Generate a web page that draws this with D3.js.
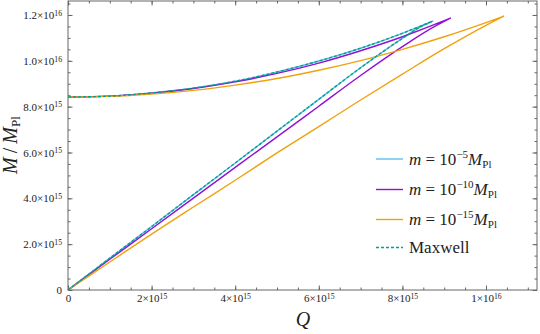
<!DOCTYPE html>
<html>
<head>
<meta charset="utf-8">
<script src="https://cdn.jsdelivr.net/npm/d3@7"></script>
<style>
body { margin: 0; background: #fff; }
svg { display: block; }
svg text { font-family: "Liberation Serif", "Times New Roman", serif; }
</style>
</head>
<body>
<svg width="540" height="334"></svg>
<script>
// values in units of 1e15 (Q) and 1e15 M_Pl (M)
var UNIT = 1e15;

// m = 1e-5 M_Pl
var q5Lower = [0, 1, 2, 3, 4, 5, 6, 7, 8, 8.4, 8.74];
var m5Lower = [0, 1.39, 2.77, 4.16, 5.54, 6.93, 8.32, 9.70, 10.98, 11.45, 11.74];
var q5Upper = [0, 1, 2, 3, 4, 5, 6, 7, 8, 8.74];
var m5Upper = [8.42, 8.46, 8.60, 8.81, 9.11, 9.51, 9.99, 10.55, 11.20, 11.74];

// m = 1e-10 M_Pl
var q10Lower = [0, 1, 2, 3, 4, 5, 6, 7, 8, 8.6, 9.16];
var m10Lower = [0, 1.34, 2.67, 4.01, 5.35, 6.68, 8.02, 9.36, 10.62, 11.32, 11.87];
var q10Upper = [0, 1, 2, 3, 4, 5, 6, 7, 8, 9, 9.16];
var m10Upper = [8.42, 8.46, 8.59, 8.79, 9.08, 9.45, 9.90, 10.44, 11.05, 11.75, 11.87];

// m = 1e-15 M_Pl
var q15Lower = [0, 1, 2, 3, 4, 5, 6, 7, 8, 9, 10, 10.43];
var m15Lower = [0, 1.22, 2.44, 3.62, 4.79, 5.98, 7.13, 8.29, 9.42, 10.53, 11.55, 11.95];
var q15Upper = [0, 1, 2, 3, 4, 5, 6, 7, 8, 9, 10, 10.43];
var m15Upper = [8.42, 8.45, 8.55, 8.71, 8.94, 9.23, 9.59, 10.01, 10.50, 11.05, 11.67, 11.95];

// Maxwell
var qMaxLower = [0, 1, 2, 3, 4, 5, 6, 7, 8, 8.4, 8.72];
var mMaxLower = [0, 1.39, 2.77, 4.16, 5.54, 6.93, 8.32, 9.70, 10.98, 11.45, 11.73];
var qMaxUpper = [0, 1, 2, 3, 4, 5, 6, 7, 8, 8.72];
var mMaxUpper = [8.42, 8.46, 8.60, 8.81, 9.11, 9.51, 9.99, 10.55, 11.20, 11.73];

var xTicks = [0, 2, 4, 6, 8, 10];
var xTickMant = ["0", "2", "4", "6", "8", "1"];
var xTickExp = [null, "15", "15", "15", "15", "16"];
var yTicks = [0, 2, 4, 6, 8, 10, 12];
var yTickMant = ["0", "2.0", "4.0", "6.0", "8.0", "1.0", "1.2"];
var yTickExp = [null, "15", "15", "15", "15", "16", "16"];

var seriesNames = ["m5", "m10", "m15", "maxwell"];
var seriesColors = ["#5ebfe9", "#9210d6", "#f0a20e", "#00a38a"];
var seriesExp = ["\u22125", "\u221210", "\u221215", null];

var svg = d3.select("svg"),
    margin = {top: 1, right: 3, bottom: 44, left: 68},
    width = +svg.attr("width") - margin.left - margin.right,
    height = +svg.attr("height") - margin.top - margin.bottom;

var x = d3.scaleLinear().domain([0, 11.22 * UNIT]).range([0, width]);
var y = d3.scaleLinear().domain([0, 12.61 * UNIT]).range([height, 0]);

var g = svg.append("g").attr("transform", "translate(" + margin.left + "," + margin.top + ")");

var minorX = d3.range(0, 11.2, 0.5).map(function(d) { return d * UNIT; });
var minorY = d3.range(0, 12.6, 0.5).map(function(d) { return d * UNIT; });

function sciLabel(sel, mants, exps) {
  sel.each(function(d, i) {
    var t = d3.select(this).text(null);
    if (!exps[i]) { t.text(mants[i]); return; }
    t.append("tspan").text(mants[i] + "\u00d710");
    t.append("tspan").attr("dy", "-0.42em").attr("font-size", "0.7em").text(exps[i]);
  });
}

function styleAxis(a) {
  a.select(".domain").remove();
  a.selectAll("line").attr("stroke", "#666");
  a.selectAll("text").attr("fill", "#222").attr("font-size", 11);
}

// bottom
var bx = g.append("g").attr("transform", "translate(0," + height + ")")
  .call(d3.axisBottom(x).tickValues(xTicks.map(function(d) { return d * UNIT; })).tickSize(-4.5).tickPadding(4));
styleAxis(bx);
sciLabel(bx.selectAll("text"), xTickMant, xTickExp);
g.append("g").attr("transform", "translate(0," + height + ")")
  .call(d3.axisBottom(x).tickValues(minorX).tickSize(-2.5).tickFormat("")).call(styleAxis);
// top
g.append("g").call(d3.axisTop(x).tickValues(xTicks.map(function(d) { return d * UNIT; })).tickSize(-4.5).tickFormat("")).call(styleAxis);
g.append("g").call(d3.axisTop(x).tickValues(minorX).tickSize(-2.5).tickFormat("")).call(styleAxis);

// left
var ly = g.append("g")
  .call(d3.axisLeft(y).tickValues(yTicks.map(function(d) { return d * UNIT; })).tickSize(-4.5).tickPadding(6));
styleAxis(ly);
sciLabel(ly.selectAll("text"), yTickMant, yTickExp);
g.append("g").call(d3.axisLeft(y).tickValues(minorY).tickSize(-2.5).tickFormat("")).call(styleAxis);
// right
g.append("g").attr("transform", "translate(" + width + ",0)")
  .call(d3.axisRight(y).tickValues(yTicks.map(function(d) { return d * UNIT; })).tickSize(-4.5).tickFormat("")).call(styleAxis);
g.append("g").attr("transform", "translate(" + width + ",0)")
  .call(d3.axisRight(y).tickValues(minorY).tickSize(-2.5).tickFormat("")).call(styleAxis);

g.append("rect").attr("width", width).attr("height", height)
  .attr("fill", "none").attr("stroke", "#666").attr("stroke-width", 1);

// curves
var line = d3.line()
  .x(function(d) { return x(d[0] * UNIT); })
  .y(function(d) { return y(d[1] * UNIT); })
  .curve(d3.curveMonotoneX);

var branches = [
  [q5Lower, m5Lower, q5Upper, m5Upper],
  [q10Lower, m10Lower, q10Upper, m10Upper],
  [q15Lower, m15Lower, q15Upper, m15Upper],
  [qMaxLower, mMaxLower, qMaxUpper, mMaxUpper]
];

var plot = g.append("g").attr("class", "curves");
branches.forEach(function(b, i) {
  var lower = d3.zip(b[0], b[1]);
  var upper = d3.zip(b[2], b[3]);
  plot.append("path")
    .attr("d", line(lower) + line(upper))
    .attr("fill", "none")
    .attr("stroke", seriesColors[i])
    .attr("stroke-width", 1.4)
    .attr("stroke-dasharray", seriesNames[i] === "maxwell" ? "3,2" : null);
});

// axis labels
svg.append("text")
  .attr("x", 303).attr("y", 326)
  .attr("text-anchor", "middle")
  .attr("font-size", 20).attr("font-style", "italic").attr("fill", "#222")
  .text("Q");

var yl = svg.append("text")
  .attr("transform", "translate(17,145) rotate(-90)")
  .attr("text-anchor", "middle")
  .attr("font-size", 20).attr("fill", "#222");
yl.append("tspan").attr("font-style", "italic").text("M");
yl.append("tspan").text("\u2009/\u2009");
yl.append("tspan").attr("font-style", "italic").text("M");
yl.append("tspan").attr("dy", 3).attr("font-size", 13).text("Pl");

// legend
var legendY = [159, 189.5, 219.5, 247.5];
var legend = svg.append("g").attr("class", "legend");
seriesNames.forEach(function(name, i) {
  var row = legend.append("g").attr("transform", "translate(0," + legendY[i] + ")");
  row.append("line")
    .attr("x1", 376).attr("x2", 403)
    .attr("stroke", seriesColors[i]).attr("stroke-width", 1.4)
    .attr("stroke-dasharray", name === "maxwell" ? "3,2" : null);
  var t = row.append("text").attr("x", 409).attr("y", 5.5)
    .attr("font-size", 17).attr("fill", "#222");
  if (name === "maxwell") { t.text("Maxwell"); return; }
  t.append("tspan").attr("font-style", "italic").text("m");
  t.append("tspan").text(" = 10");
  t.append("tspan").attr("dy", -7).attr("font-size", 11).text(seriesExp[i]);
  t.append("tspan").attr("dy", 7).attr("font-style", "italic").text("M");
  t.append("tspan").attr("dy", 3).attr("font-size", 11).text("Pl");
});
</script>
</body>
</html>
